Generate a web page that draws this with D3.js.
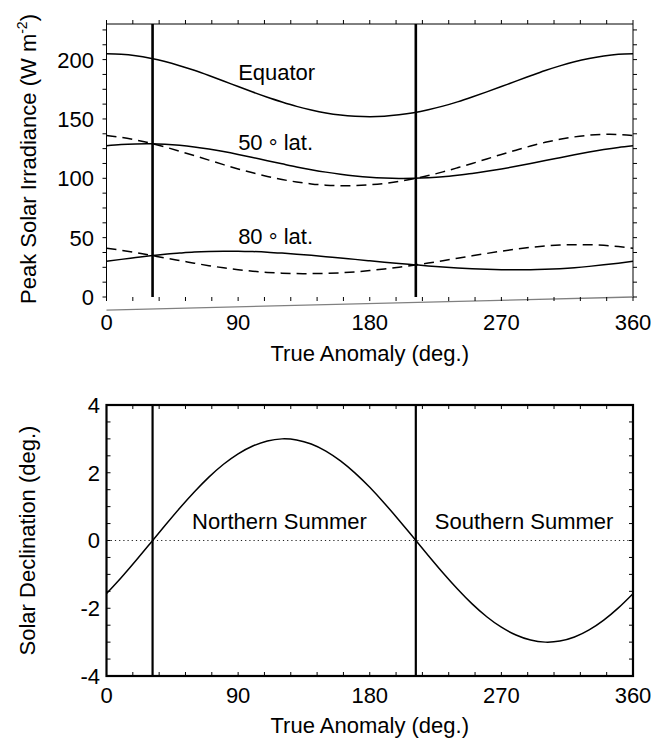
<!DOCTYPE html>
<html><head><meta charset="utf-8">
<script src="https://cdn.jsdelivr.net/npm/d3@7"></script>
<style>
body{margin:0;background:#fff;}
text{font-family:"Liberation Sans",Arial,Helvetica,sans-serif;fill:#000;}
</style></head>
<body><svg id="c" width="653" height="744"></svg>
<script>
// True anomaly (deg.)
const anomaly = [0,10,20,30,40,50,60,70,80,90,100,110,120,130,140,150,160,170,180,190,200,210,220,230,240,250,260,270,280,290,300,310,320,330,340,350,360];
// Peak solar irradiance (W m^-2)
const equator = [204.9,204.5,203.3,201.2,198.4,194.9,191.0,186.6,182.0,177.3,172.7,168.3,164.3,160.6,157.6,155.1,153.3,152.3,151.9,152.3,153.5,155.3,157.8,160.8,164.4,168.5,172.8,177.3,181.9,186.4,190.8,194.7,198.2,201.0,203.1,204.5,204.9];
const lat50N = [127.4,128.5,129.0,129.1,128.7,127.8,126.4,124.6,122.5,120.1,117.5,114.8,112.2,109.6,107.3,105.2,103.4,101.9,100.8,100.2,99.9,100.0,100.5,101.3,102.6,104.1,105.9,107.9,110.1,112.5,115.0,117.4,119.8,122.1,124.2,126.0,127.4];
const lat50S = [136.0,134.5,132.3,129.6,126.4,122.8,119.1,115.3,111.5,107.9,104.6,101.6,99.0,96.9,95.3,94.2,93.7,93.8,94.5,95.7,97.4,99.7,102.3,105.4,108.9,112.5,116.3,120.1,123.7,127.2,130.3,132.9,134.9,136.3,137.0,136.9,136.0];
const lat80N = [30.1,31.7,33.2,34.7,36.0,37.0,37.9,38.4,38.6,38.6,38.3,37.8,37.0,36.1,35.1,34.0,32.8,31.7,30.5,29.3,28.2,27.2,26.2,25.3,24.5,23.8,23.3,23.0,22.9,22.9,23.3,23.9,24.7,25.8,27.1,28.5,30.1];
const lat80S = [41.1,39.4,37.4,35.2,32.9,30.7,28.5,26.4,24.6,23.0,21.7,20.7,20.1,19.7,19.7,19.9,20.4,21.2,22.3,23.6,25.1,26.8,28.6,30.6,32.6,34.7,36.7,38.6,40.3,41.8,43.0,43.8,44.1,44.0,43.5,42.5,41.1];
// Solar declination (deg.)
const declination = [-1.57,-1.10,-0.60,-0.08,0.44,0.95,1.43,1.87,2.25,2.56,2.79,2.94,3.00,2.97,2.85,2.64,2.35,1.99,1.57,1.10,0.60,0.08,-0.44,-0.95,-1.43,-1.87,-2.25,-2.56,-2.79,-2.94,-3.00,-2.97,-2.85,-2.64,-2.35,-1.99,-1.57];
const equinoxes = [31.5, 211.5];
const xTickLabels = [0,90,180,270,360];
const xMinorTicks = d3.range(0,361,18);
const topYTickLabels = [0,50,100,150,200];
const topYMinorTicks = d3.range(0,230,12.5);
const botYTickLabels = [-4,-2,0,2,4];
const botYMinorTicks = d3.range(-4,4.01,0.5);
const baselineSegment = [[0,-11],[360,0]];

const svg = d3.select("#c");
const FS = 22;

// ---------- Top panel ----------
const x1 = d3.scaleLinear().domain([0,360]).range([106.5,633]);
const y1 = d3.scaleLinear().domain([0,230]).range([297,24]);
const gT = svg.append("g");

gT.append("line").attr("x1",x1(0)).attr("x2",x1(0)).attr("y1",y1(230)).attr("y2",y1(0)).attr("stroke","#000").attr("stroke-width",1);
gT.append("line").attr("x1",x1(0)).attr("x2",x1(360)).attr("y1",y1(230)).attr("y2",y1(230)).attr("stroke","#000").attr("stroke-width",1);
gT.append("line").attr("x1",x1(360)).attr("x2",x1(360)).attr("y1",y1(230)).attr("y2",y1(0)).attr("stroke","#000").attr("stroke-width",1);
gT.append("line").attr("x1",x1(baselineSegment[0][0])).attr("y1",y1(baselineSegment[0][1]))
  .attr("x2",x1(baselineSegment[1][0])).attr("y2",y1(baselineSegment[1][1]))
  .attr("stroke","#808080").attr("stroke-width",1.3);

const tl = 4;
xMinorTicks.forEach(v=>{
  gT.append("line").attr("x1",x1(v)).attr("x2",x1(v)).attr("y1",y1(230)).attr("y2",y1(230)-tl).attr("stroke","#000");
  gT.append("line").attr("x1",x1(v)).attr("x2",x1(v)).attr("y1",y1(0)).attr("y2",y1(0)+tl).attr("stroke","#000");
});
topYMinorTicks.forEach(v=>{
  gT.append("line").attr("x1",x1(0)).attr("x2",x1(0)-tl).attr("y1",y1(v)).attr("y2",y1(v)).attr("stroke","#000");
  gT.append("line").attr("x1",x1(360)).attr("x2",x1(360)+tl).attr("y1",y1(v)).attr("y2",y1(v)).attr("stroke","#000");
});
topYTickLabels.forEach(v=>{
  gT.append("text").attr("x",94).attr("y",y1(v)).attr("dy","0.36em").attr("text-anchor","end").attr("font-size",FS).text(v);
});
xTickLabels.forEach(v=>{
  gT.append("text").attr("x",x1(v)).attr("y",330).attr("text-anchor","middle").attr("font-size",FS).text(v);
});
gT.append("text").attr("x",x1(180)).attr("y",361).attr("text-anchor","middle").attr("font-size",FS).text("True Anomaly (deg.)");
const yt = gT.append("text").attr("transform",`translate(36,159) rotate(-90)`).attr("text-anchor","middle").attr("font-size",FS);
yt.append("tspan").text("Peak Solar Irradiance (W m");
yt.append("tspan").attr("font-size",14).attr("dy",-9).text("-2");
yt.append("tspan").attr("dy",9).text(")");

const line1 = d3.line().x((d,i)=>x1(anomaly[i])).y(d=>y1(d)).curve(d3.curveNatural);
[[equator,null],[lat50N,null],[lat50S,"10,6"],[lat80N,null],[lat80S,"10,6"]].forEach(([s,dash])=>{
  gT.append("path").attr("d",line1(s)).attr("fill","none").attr("stroke","#000").attr("stroke-width",1.5)
    .attr("stroke-dasharray",dash);
});
equinoxes.forEach(v=>{
  gT.append("line").attr("x1",x1(v)).attr("x2",x1(v)).attr("y1",y1(230)).attr("y2",y1(0)).attr("stroke","#000").attr("stroke-width",2.6);
});
gT.append("text").attr("x",x1(90)).attr("y",y1(183)).attr("font-size",FS).text("Equator");
function latLabel(num, yv){
  const t = gT.append("text").attr("x",x1(90)).attr("y",y1(yv)).attr("font-size",FS);
  t.append("tspan").text(num+" ");
  t.append("tspan").attr("dy",5).text("°");
  t.append("tspan").attr("dy",-5).text(" lat.");
}
latLabel("50",124);
latLabel("80",45);

// ---------- Bottom panel ----------
const x2 = d3.scaleLinear().domain([0,360]).range([106.5,633]);
const y2 = d3.scaleLinear().domain([-4,4]).range([676,405]);
const gB = svg.append("g");
xMinorTicks.forEach(v=>{
  gB.append("line").attr("x1",x2(v)).attr("x2",x2(v)).attr("y1",y2(4)).attr("y2",y2(4)+tl).attr("stroke","#000");
  gB.append("line").attr("x1",x2(v)).attr("x2",x2(v)).attr("y1",y2(-4)).attr("y2",y2(-4)-tl).attr("stroke","#000");
});
botYMinorTicks.forEach(v=>{
  gB.append("line").attr("x1",x2(0)).attr("x2",x2(0)+tl).attr("y1",y2(v)).attr("y2",y2(v)).attr("stroke","#000");
  gB.append("line").attr("x1",x2(360)).attr("x2",x2(360)-tl).attr("y1",y2(v)).attr("y2",y2(v)).attr("stroke","#000");
});
gB.append("line").attr("x1",x2(0)).attr("x2",x2(360)).attr("y1",y2(0)).attr("y2",y2(0))
  .attr("stroke","#222").attr("stroke-width",1.2).attr("stroke-dasharray","1.2,3");
const line2 = d3.line().x((d,i)=>x2(anomaly[i])).y(d=>y2(d)).curve(d3.curveNatural);
gB.append("path").attr("d",line2(declination)).attr("fill","none").attr("stroke","#000").attr("stroke-width",1.5);
equinoxes.forEach(v=>{
  gB.append("line").attr("x1",x2(v)).attr("x2",x2(v)).attr("y1",y2(4)).attr("y2",y2(-4)).attr("stroke","#000").attr("stroke-width",2.2);
});
gB.append("rect").attr("x",x2(0)).attr("y",y2(4)).attr("width",x2(360)-x2(0)).attr("height",y2(-4)-y2(4))
  .attr("fill","none").attr("stroke","#000").attr("stroke-width",2.2);
botYTickLabels.forEach(v=>{
  gB.append("text").attr("x",100).attr("y",y2(v)).attr("dy","0.36em").attr("text-anchor","end").attr("font-size",FS).text(v);
});
xTickLabels.forEach(v=>{
  gB.append("text").attr("x",x2(v)).attr("y",703).attr("text-anchor","middle").attr("font-size",FS).text(v);
});
gB.append("text").attr("x",x2(180)).attr("y",733).attr("text-anchor","middle").attr("font-size",FS).text("True Anomaly (deg.)");
gB.append("text").attr("transform",`translate(35,${y2(0)}) rotate(-90)`).attr("text-anchor","middle").attr("font-size",FS).text("Solar Declination (deg.)");
gB.append("text").attr("x",x2(58.5)).attr("y",y2(0.33)).attr("font-size",FS).text("Northern Summer");
gB.append("text").attr("x",x2(224.5)).attr("y",y2(0.33)).attr("font-size",FS).text("Southern Summer");
</script></body></html>
